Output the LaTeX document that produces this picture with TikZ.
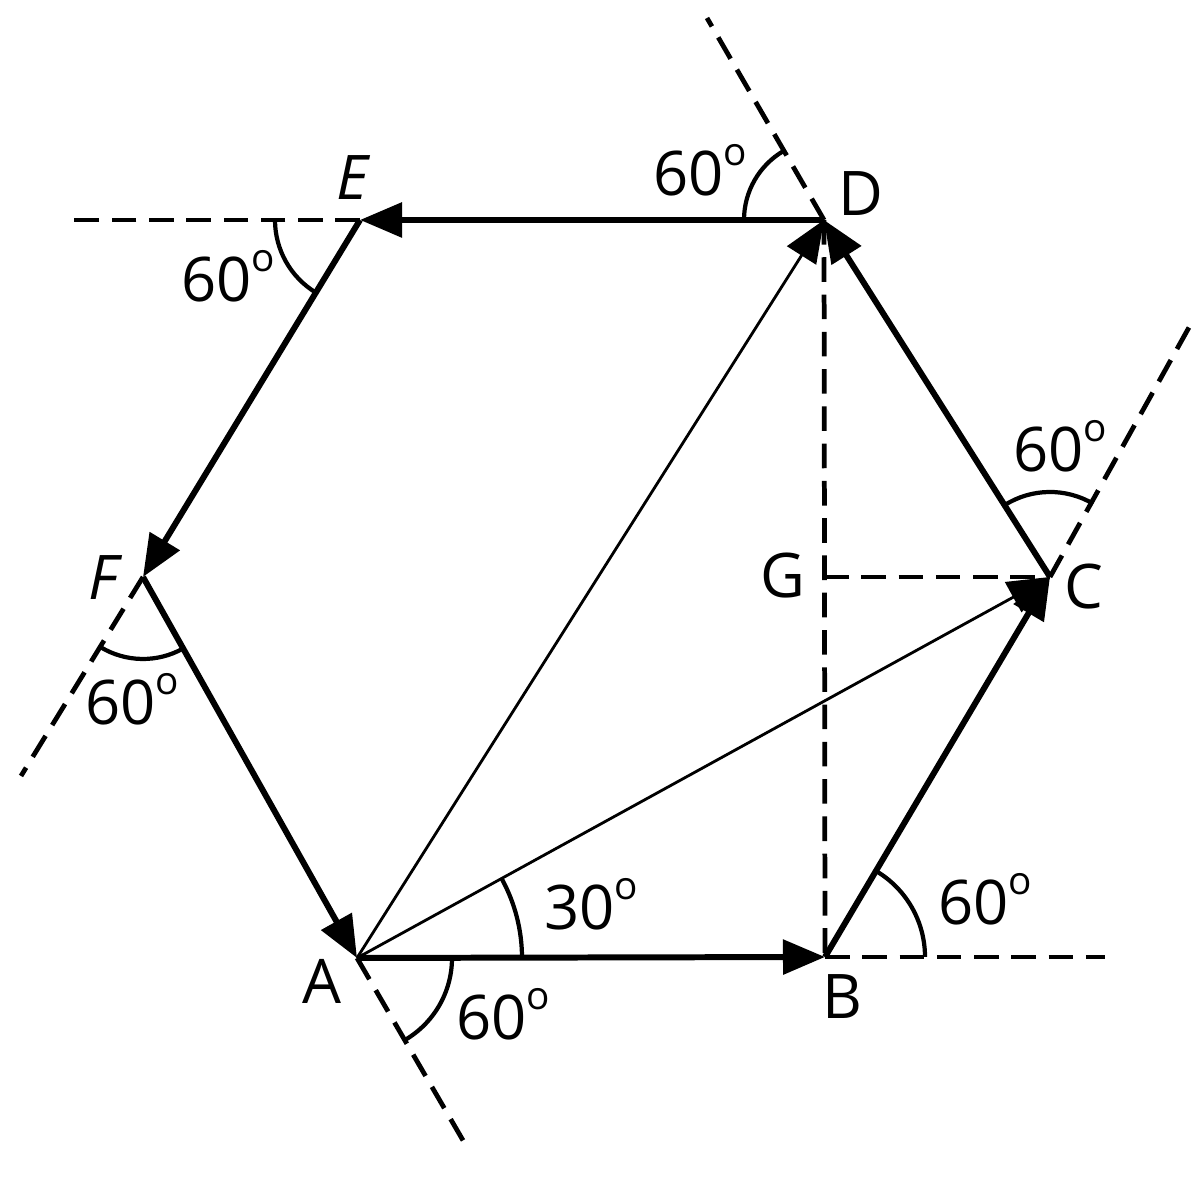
\documentclass[tikz,border=0pt]{standalone}
\usepackage{fontspec}
\setmainfont{Open Sans}
\usetikzlibrary{arrows.meta}
\newcommand\degsign{\raisebox{8.6pt}{\fontsize{11}{11}\selectfont o}}
\begin{document}
\begin{tikzpicture}[x=0.01cm,y=0.01cm,
  tip/.style={-{Triangle[length=0.42cm,width=0.34cm]}},
  edge/.style={tip,line width=1.7pt},
  thinvec/.style={tip,line width=0.8pt},
  dashline/.style={line width=1.35pt,dash pattern=on 7pt off 3.6pt},
  anglearc/.style={line width=1.2pt},
  lbl/.style={font=\fontsize{17.5}{19}\selectfont,inner sep=0pt},
  ilbl/.style={lbl,font=\fontsize{17.5}{19}\selectfont\itshape},
]
\useasboundingbox (0,0) rectangle (1200,1177);
% vertices
\coordinate (A) at (357,219);
\coordinate (B) at (825,220);
\coordinate (C) at (1050,600);
\coordinate (D) at (824,957);
\coordinate (E) at (360,957);
\coordinate (F) at (143,600);
\coordinate (G) at (824,600);
% ends of dashed extension lines
\coordinate (Eend) at (63,957);
\coordinate (Fend) at (21,401);
\coordinate (Aend) at (468,28);
\coordinate (Bend) at (1105,220);
\coordinate (Cend) at (1192,855);
\coordinate (Dend) at (707,1159);
% dashed lines
\draw[dashline] (E) -- (Eend);
\draw[dashline] (F) -- (Fend);
\draw[dashline] (A) -- (Aend);
\draw[dashline] (B) -- (Bend);
\draw[dashline] (C) -- (Cend);
\draw[dashline] (D) -- (Dend);
\draw[dashline] (D) -- (B);
\draw[dashline] (G) -- (C);
% angle arcs
\draw[anglearc] (D) ++(120.3:80) arc[start angle=120.3,end angle=180,radius=80];
\draw[anglearc] (E) ++(180:85) arc[start angle=180,end angle=238.7,radius=85];
\draw[anglearc] (F) ++(238.7:82) arc[start angle=238.7,end angle=299.3,radius=82];
\draw[anglearc] (A) ++(0:165) arc[start angle=0,end angle=28.8,radius=165];
\draw[anglearc] (A) ++(-60.7:95) arc[start angle=-60.7,end angle=0,radius=95];
\draw[anglearc] (B) ++(0:100) arc[start angle=0,end angle=59.5,radius=100];
\draw[anglearc] (C) ++(59.5:85) arc[start angle=59.5,end angle=122.3,radius=85];
% thin vectors
\draw[thinvec] (A) -- (D);
\draw[thinvec] (A) -- (C);
% hexagon vectors
\draw[edge] (A) -- (B);
\draw[edge] (B) -- (C);
\draw[edge] (C) -- (D);
\draw[edge] (D) -- (E);
\draw[edge] (E) -- (F);
\draw[edge] (F) -- (A);
% labels
\node[lbl]  (lA) at (322,196) {A};
\node[lbl]  (lB) at (842,180) {B};
\node[lbl]  (lC) at (1084,590) {C};
\node[lbl]  (lD) at (861,983) {D};
\node[ilbl] (lE) at (352,999) {E};
\node[ilbl] (lF) at (103,599) {F};
\node[lbl]  (lG) at (783,601) {G};
\node[lbl]  (aD) at (700,1007) {60\degsign};
\node[lbl]  (aE) at (228,901) {60\degsign};
\node[lbl]  (aF) at (132,478) {60\degsign};
\node[lbl]  (aA) at (503,163) {60\degsign};
\node[lbl]  (aAC) at (591,273) {30\degsign};
\node[lbl]  (aB) at (985,278) {60\degsign};
\node[lbl]  (aC) at (1060,731) {60\degsign};
\end{tikzpicture}
\end{document}
